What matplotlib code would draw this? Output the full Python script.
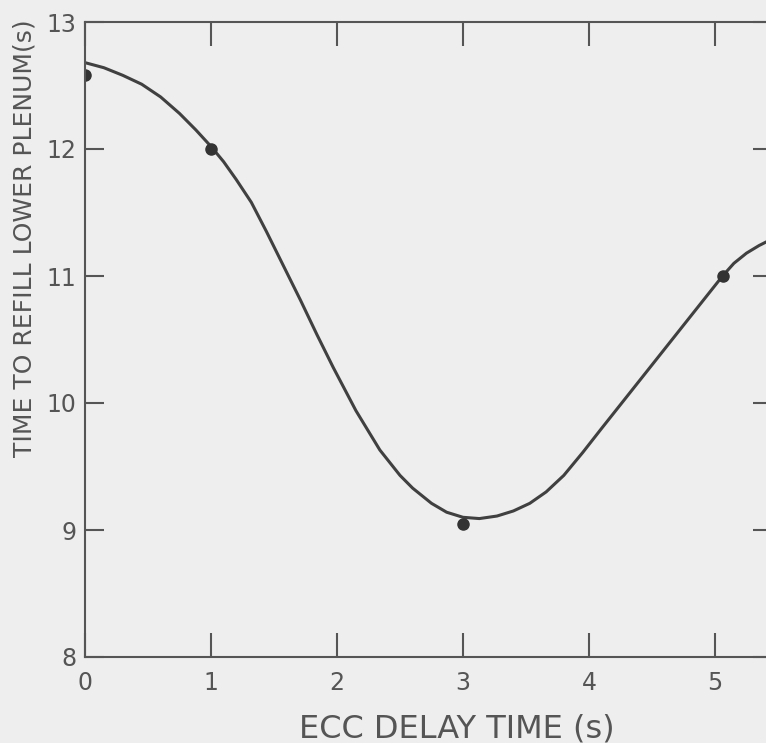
import matplotlib
matplotlib.use('Agg')
import matplotlib.pyplot as plt

# measured points
punto_x = [0.0, 1.0, 3.0, 5.06]
punto_y = [12.58, 12.0, 9.05, 11.0]

# hand-drawn curve
curva_x = [0.0, 0.15, 0.3, 0.45, 0.6, 0.75, 0.88, 1.0, 1.1, 1.2, 1.32, 1.44, 1.57, 1.71,
           1.84, 1.97, 2.15, 2.34, 2.5, 2.6, 2.75, 2.87, 3.0, 3.13, 3.27, 3.4, 3.53,
           3.66, 3.8, 3.95, 4.1, 4.3, 4.5, 4.7, 4.9, 5.06, 5.15, 5.25, 5.35, 5.45]
curva_y = [12.68, 12.64, 12.58, 12.51, 12.41, 12.28, 12.15, 12.02, 11.90, 11.76, 11.58,
           11.35, 11.09, 10.81, 10.54, 10.28, 9.94, 9.63, 9.43, 9.33, 9.21, 9.14, 9.10,
           9.09, 9.11, 9.15, 9.21, 9.30, 9.43, 9.61, 9.80, 10.05, 10.30, 10.55, 10.80,
           11.0, 11.10, 11.18, 11.24, 11.29]

xticks = [0, 1, 2, 3, 4, 5]
yticks = [8, 9, 10, 11, 12, 13]

gris = '#404040'
fondo = '#eeeeee'

fig = plt.figure(figsize=(7.66, 7.43), dpi=100, facecolor=fondo)
ax = fig.add_axes([85 / 766, 86 / 743, 686.7 / 766, 635 / 743], facecolor=fondo)

ax.plot(curva_x, curva_y, color=gris, lw=2.2, solid_capstyle='round', solid_joinstyle='round')
ax.plot(punto_x, punto_y, 'o', color='#333333', ms=8)

ax.set_xlim(0, 5.45)
ax.set_ylim(8, 13)
ax.set_xticks(xticks)
ax.set_yticks(yticks)

for s in ax.spines.values():
    s.set_color('#555555')
    s.set_linewidth(1.5)

ax.tick_params(direction='in', length=14, width=1.5, color='#555555',
               top=True, right=True, labelsize=17, labelcolor='#555555', pad=8)
ax.tick_params(axis='x', which='both', length=17, pad=10)
ax.tick_params(axis='y', pad=6)

ax.set_xlabel('ECC DELAY TIME (s)', fontsize=23, color='#555555')
ax.xaxis.set_label_coords(0.541, -0.089)
ax.set_ylabel('TIME TO REFILL LOWER PLENUM(s)', fontsize=18, color='#555555')
ax.yaxis.set_label_coords(-0.07, 0.66)

fig.savefig('out.png', dpi=100, facecolor=fondo)
